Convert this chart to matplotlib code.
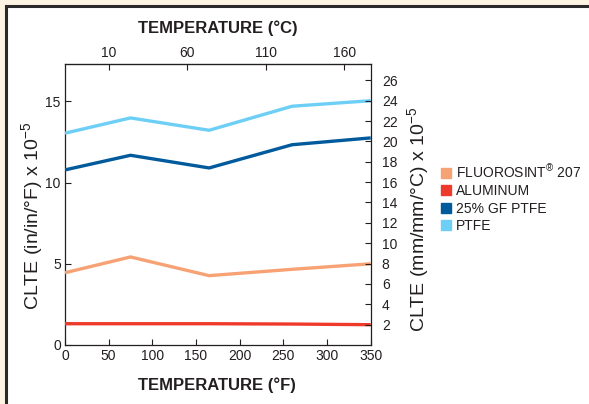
import matplotlib
matplotlib.use("Agg")
import matplotlib.pyplot as plt
from matplotlib.lines import Line2D
from matplotlib.patches import Rectangle

plt.rcParams['font.family'] = ['Liberation Sans', 'DejaVu Sans']
plt.rcParams['mathtext.fontset'] = 'custom'
plt.rcParams['mathtext.rm'] = 'Liberation Sans'
plt.rcParams['mathtext.it'] = 'Liberation Sans'

# data (CLTE in in/in/°F x 10^-5)
temp_f = [0, 75, 165, 260, 350]
fluorosint = [4.45, 5.42, 4.27, 4.66, 5.0]
aluminum = [1.31, 1.31, 1.31, 1.29, 1.25]
gf_ptfe = [10.78, 11.68, 10.9, 12.33, 12.75]
ptfe = [13.04, 13.98, 13.22, 14.7, 15.04]

names = ['FLUOROSINT$^{®}$ 207', 'ALUMINUM', '25% GF PTFE', 'PTFE']
colors = ['#f7a274', '#ee3a2a', '#005a9c', '#6dcff6']
series = [fluorosint, aluminum, gf_ptfe, ptfe]

f_ticks = [0, 50, 100, 150, 200, 250, 300, 350]
c_ticks = [10, 60, 110, 160]
right_ticks = list(range(2, 27, 2))
left_ticks = [0, 5, 10, 15]

ink = '#231f20'

fig = plt.figure(figsize=(5.89, 4.04), dpi=100, facecolor='#fcf3e2')
# white panel with dark frame
fig.patches.append(Rectangle((6 / 589, -0.1), 1.2, 1 - 6 / 404 + 0.1,
                             transform=fig.transFigure, facecolor='white',
                             edgecolor='#2a2a2a', linewidth=2.2, zorder=-10))

ax = fig.add_axes([65 / 589, 59 / 404, 305.7 / 589, 281 / 404])
ax.set_facecolor('none')

for vals, col in zip(series, colors):
    ax.plot(temp_f, vals, color=col, linewidth=2.4, solid_capstyle='butt', zorder=3)

ax.set_xlim(0, 350)
ax.set_ylim(0, 17.3)
ax.set_xticks(f_ticks)
ax.set_yticks(left_ticks)
ax.tick_params(direction='in', length=4.5, width=0.8, color=ink,
               labelsize=10, labelcolor=ink, pad=3)
for s in ax.spines.values():
    s.set_color(ink)
    s.set_linewidth(0.9)

ax.set_xlabel('TEMPERATURE (°F)', fontsize=12, fontweight='bold', color=ink)
ax.xaxis.set_label_coords(0.497, -0.114)
ax.set_ylabel('CLTE (in/in/°F) x 10$^{-5}$', fontsize=14, color=ink)
ax.yaxis.set_label_coords(-0.066, 0.46)

# top axis in °C
top = ax.secondary_xaxis('top', functions=(lambda f: (f - 32) / 1.8,
                                           lambda c: c * 1.8 + 32))
top.set_xticks(c_ticks)
top.tick_params(direction='in', length=4.5, width=0.8, color=ink,
                labelsize=10, labelcolor=ink, pad=3)
top.set_xlabel('TEMPERATURE (°C)', fontsize=12, fontweight='bold', color=ink,
               labelpad=9)

# right axis in mm/mm/°C
ax2 = ax.twinx()
ax2.set_ylim(0, 27.6)
ax2.set_yticks(right_ticks)
ax2.tick_params(direction='in', length=4.5, width=0.8, color=ink,
                labelsize=10, labelcolor=ink, pad=8)
for s in ax2.spines.values():
    s.set_visible(False)
ax2.set_ylabel('CLTE (mm/mm/°C) x 10$^{-5}$', fontsize=14, color=ink)
ax2.yaxis.set_label_coords(1.113, 0.448)

handles = [Line2D([], [], marker='s', linestyle='none', markersize=7,
                  markerfacecolor=c, markeredgecolor=c) for c in colors]
fig.legend(handles, names, loc='upper left',
           bbox_to_anchor=(435 / 589, 1 - 156 / 404), frameon=False,
           fontsize=10, handlelength=0.6, handletextpad=0.4,
           labelspacing=0.25, borderpad=0, labelcolor=ink)

fig.savefig('out.png', dpi=100, facecolor=fig.get_facecolor())
